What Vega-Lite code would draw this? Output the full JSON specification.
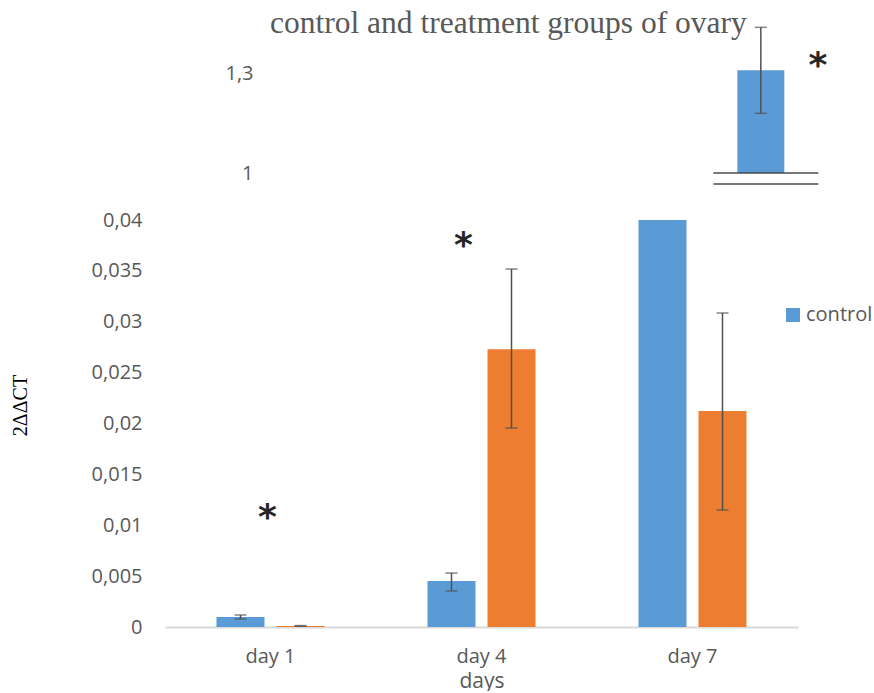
{
  "$schema": "https://vega.github.io/schema/vega-lite/v6.json",
  "background": "white",
  "padding": {"left": 10, "top": 8, "right": 0, "bottom": 0},
  "config": {
    "view": {"stroke": null},
    "axis": {"grid": false, "ticks": false, "labelFont": "Open Sans", "labelFontSize": 20, "labelColor": "#595959", "titleFont": "Open Sans", "titleFontWeight": "normal", "titleColor": "#595959"},
    "axisY": {"domain": false},
    "axisX": {"domain": true, "domainColor": "#d9d9d9", "domainWidth": 2}
  },
  "title": {"text": "control and treatment groups of ovary", "font": "Liberation Serif", "fontSize": 31.5, "fontWeight": "normal", "color": "#595959", "anchor": "start", "frame": "group", "dx": 105, "offset": -13},
  "datasets": {
    "bars": [
      {"day": "day 1", "group": "control", "value": 0.00098, "lo": 0.00079, "hi": 0.00118},
      {"day": "day 1", "group": "treatment", "value": 0.0001, "lo": 0.00007, "hi": 0.00014},
      {"day": "day 4", "group": "control", "value": 0.00452, "lo": 0.00354, "hi": 0.0053},
      {"day": "day 4", "group": "treatment", "value": 0.0273, "lo": 0.01956, "hi": 0.03518},
      {"day": "day 7", "group": "control", "value": 1.308, "lo": 1.179, "hi": 1.437},
      {"day": "day 7", "group": "treatment", "value": 0.02123, "lo": 0.0115, "hi": 0.03086}
    ],
    "stars": [
      {"day": "day 1", "panel": "low", "level": 0.0113},
      {"day": "day 4", "panel": "low", "level": 0.038},
      {"day": "day 7", "panel": "high", "level": 1.338}
    ]
  },
  "spacing": 36,
  "bounds": "flush",
  "resolve": {"scale": {"x": "independent", "y": "independent"}},
  "vconcat": [
    {
      "width": 715,
      "height": 111,
      "data": {"name": "bars"},
      "transform": [{"filter": "datum.day == 'day 7' && datum.group == 'control'"}],
      "encoding": {
        "x": {"field": "day", "type": "nominal", "scale": {"domain": ["day 1", "day 4", "day 7"], "paddingInner": 0, "paddingOuter": 0}, "axis": null}
      },
      "layer": [
        {
          "mark": {"type": "bar", "color": "#5B9BD5", "width": 47},
          "encoding": {
            "y": {"field": "value", "type": "quantitative", "title": null, "scale": {"domain": [0.967, 1.3], "nice": false, "zero": false},
              "axis": {"values": [1, 1.3], "offset": -111, "labelPadding": 23, "labelExpr": "replace(format(datum.value, '~r'), '.', ',')"}},
            "y2": {"datum": 1}
          }
        },
        {
          "mark": {"type": "rule", "color": "#505050", "strokeWidth": 1.5},
          "encoding": {"y": {"field": "lo", "type": "quantitative", "title": null}, "y2": {"field": "hi"}}
        },
        {
          "mark": {"type": "tick", "color": "#505050", "thickness": 1.5, "size": 12},
          "encoding": {"y": {"field": "lo", "type": "quantitative", "title": null}}
        },
        {
          "mark": {"type": "tick", "color": "#505050", "thickness": 1.5, "size": 12},
          "encoding": {"y": {"field": "hi", "type": "quantitative", "title": null}}
        },
        {
          "mark": {"type": "tick", "color": "#404040", "thickness": 2, "size": 105, "xOffset": 5},
          "encoding": {"y": {"datum": 1, "type": "quantitative"}}
        },
        {
          "mark": {"type": "tick", "color": "#404040", "thickness": 2, "size": 105, "xOffset": 5},
          "encoding": {"y": {"datum": 0.967, "type": "quantitative"}}
        },
        {
          "data": {"name": "stars"},
          "transform": [{"filter": "datum.panel == 'high'"}],
          "mark": {"type": "text", "text": "*", "font": "DejaVu Sans", "fontWeight": "bold", "fontSize": 36, "color": "#262626", "baseline": "alphabetic", "dy": 17, "dx": 57},
          "encoding": {"y": {"field": "level", "type": "quantitative", "title": null}}
        }
      ]
    },
    {
      "width": 633,
      "height": 407,
      "data": {"name": "bars"},
      "encoding": {
        "x": {"field": "day", "type": "nominal", "scale": {"domain": ["day 1", "day 4", "day 7"], "paddingInner": 0, "paddingOuter": 0},
          "axis": {"labelAngle": 0, "labelPadding": 19, "title": "days", "titleFontSize": 21, "titlePadding": 4}}
      },
      "layer": [
        {
          "mark": {"type": "bar", "clip": true},
          "encoding": {
            "xOffset": {"field": "group", "scale": {"domain": ["control", "treatment"], "paddingInner": 0.2, "paddingOuter": 0.858}},
            "y": {"field": "value", "type": "quantitative", "scale": {"domain": [0, 0.04], "nice": false},
              "axis": {"values": [0, 0.005, 0.01, 0.015, 0.02, 0.025, 0.03, 0.035, 0.04], "labelPadding": 23, "labelExpr": "replace(format(datum.value, '~r'), '.', ',')",
                "title": "2ΔΔCT", "titleFont": "Liberation Serif", "titleFontSize": 20, "titleColor": "#000000", "titlePadding": 61, "titleY": 185}},
            "color": {"field": "group", "type": "nominal", "scale": {"domain": ["control", "treatment"], "range": ["#5B9BD5", "#ED7D31"]},
              "legend": {"orient": "none", "legendX": 618, "legendY": 232, "values": ["control"], "title": null, "symbolType": "square", "symbolSize": 196, "symbolStrokeWidth": 0, "labelFont": "Open Sans", "labelFontSize": 20, "labelColor": "#595959", "labelOffset": 3}}
          }
        },
        {
          "mark": {"type": "rule", "color": "#505050", "strokeWidth": 1.5, "clip": true},
          "encoding": {
            "xOffset": {"field": "group"},
            "y": {"field": "lo", "type": "quantitative"}, "y2": {"field": "hi"}}
        },
        {
          "mark": {"type": "tick", "color": "#505050", "thickness": 1.5, "size": 12, "clip": true},
          "encoding": {"xOffset": {"field": "group"}, "y": {"field": "lo", "type": "quantitative"}}
        },
        {
          "mark": {"type": "tick", "color": "#505050", "thickness": 1.5, "size": 12, "clip": true},
          "encoding": {"xOffset": {"field": "group"}, "y": {"field": "hi", "type": "quantitative"}}
        },
        {
          "data": {"name": "stars"},
          "transform": [{"filter": "datum.day == 'day 1'"}],
          "mark": {"type": "text", "text": "*", "font": "DejaVu Sans", "fontWeight": "bold", "fontSize": 36, "color": "#262626", "baseline": "alphabetic", "dy": 17, "dx": -3},
          "encoding": {"y": {"field": "level", "type": "quantitative"}}
        },
        {
          "data": {"name": "stars"},
          "transform": [{"filter": "datum.day == 'day 4'"}],
          "mark": {"type": "text", "text": "*", "font": "DejaVu Sans", "fontWeight": "bold", "fontSize": 36, "color": "#262626", "baseline": "alphabetic", "dy": 17, "dx": -18},
          "encoding": {"y": {"field": "level", "type": "quantitative"}}
        }
      ]
    }
  ]
}
